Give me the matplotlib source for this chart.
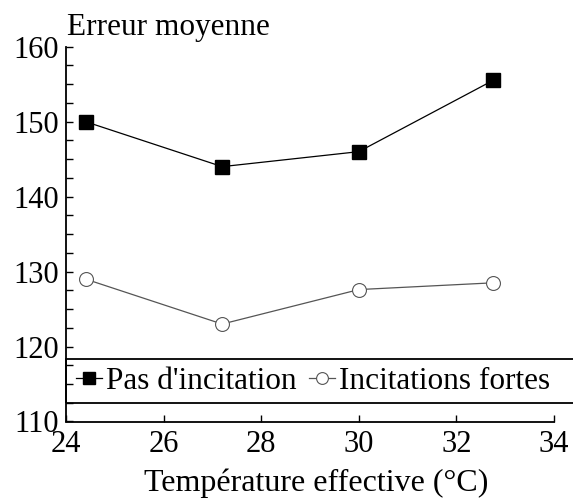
import matplotlib
matplotlib.use("Agg")
import matplotlib.pyplot as plt
from matplotlib.patches import Rectangle
from matplotlib.ticker import MultipleLocator

plt.rcParams['font.family'] = ['Liberation Serif', 'DejaVu Serif']

temp = [24.4, 27.2, 30.0, 32.75]
pas_incitation = [150.0, 144.0, 146.0, 155.5]
temp_fortes = [24.4, 27.2, 30.0, 32.75]
incitations_fortes = [129.0, 123.0, 127.6, 128.5]
xticks = [24, 26, 28, 30, 32, 34]
yticks = [110, 120, 130, 140, 150, 160]

fig = plt.figure(figsize=(5.73, 5.01), dpi=100)
ax = fig.add_axes([66/573, 1-421.5/501, (554-66)/573, (421.5-46.7)/501])

l1, = ax.plot(temp, pas_incitation, color='black', lw=0.9, marker='s',
              markersize=9.5, markerfacecolor='black', markeredgecolor='black',
              label="Pas d'incitation")
gray = '#555555'
l2, = ax.plot(temp_fortes, incitations_fortes, color=gray, lw=0.9, marker='o',
              markersize=10, markerfacecolor='white', markeredgecolor=gray,
              markeredgewidth=0.8, label='Incitations fortes')

ax.set_xlim(24, 34)
ax.set_ylim(110, 160)
ax.set_xticks(xticks)
ax.set_yticks(yticks)
ax.yaxis.set_minor_locator(MultipleLocator(2.5))
for s in ['top', 'right']:
    ax.spines[s].set_visible(False)
for s in ['left', 'bottom']:
    ax.spines[s].set_linewidth(1.3)
ax.tick_params(axis='both', which='both', direction='in', labelsize=22, width=1.0)
ax.tick_params(axis='y', which='major', length=5, pad=5)
ax.tick_params(axis='y', which='minor', length=5)
ax.tick_params(axis='x', which='major', length=5, pad=6)

ax.set_xlabel('Température effective (°C)', fontsize=23)
ax.xaxis.set_label_coords((316.5-66)/488, (421.5-483.5)/375)
ax.xaxis.label.set_va('center')
ax.text(0.002, (421.5-35)/375, 'Erreur moyenne', transform=ax.transAxes,
        fontsize=22.5, ha='left', va='baseline')

# legend box
rect = Rectangle((0, (421.5-403.3)/375), 1.2, (403.3-359)/375,
                 transform=ax.transAxes, fill=False, edgecolor='black',
                 lw=1.3, clip_on=False, zorder=5)
ax.add_patch(rect)
leg = ax.legend(handles=[l1, l2], loc='center left',
                bbox_to_anchor=(10/488, (421.5-381.5)/375), ncol=2, frameon=False,
                fontsize=22.5, handlelength=0.82, handletextpad=0.14,
                columnspacing=0.4, borderpad=0.0, borderaxespad=0.0,
                markerscale=0.85)

fig.savefig('out.png', dpi=100)
